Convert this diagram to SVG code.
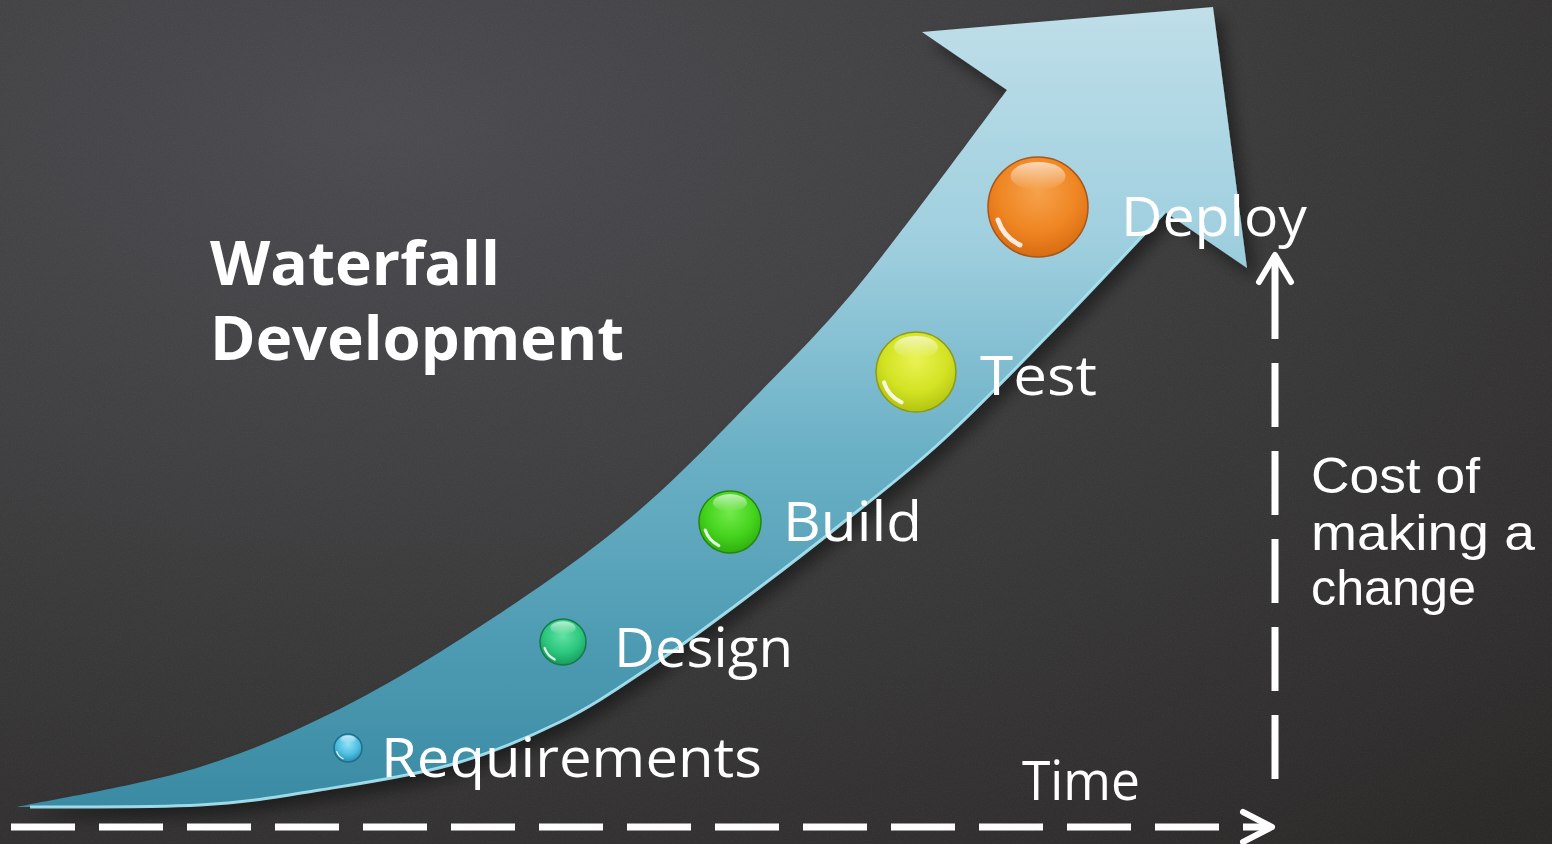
<svg xmlns="http://www.w3.org/2000/svg" width="1552" height="844" viewBox="0 0 1552 844">
<defs>
  <style>
    .lbl{font-family:"Open Sans","Liberation Sans",sans-serif;fill:#ffffff;font-size:54px;}
    .lbl2{font-family:"Liberation Sans","Open Sans",sans-serif;fill:#ffffff;font-size:50px;}
    .ttl{font-family:"Open Sans","Liberation Sans",sans-serif;fill:#ffffff;font-size:60px;font-weight:700;}
    .axis{stroke:#ffffff;stroke-width:7;fill:none;}
    .chev{stroke:#ffffff;stroke-width:6;fill:none;stroke-linecap:round;stroke-linejoin:round;}
    .rim{stroke-width:1.5;}
  </style>
  <radialGradient id="bg" cx="0.25" cy="0.15" r="1.1">
    <stop offset="0" stop-color="#4c4c51"/>
    <stop offset="0.5" stop-color="#3d3c3d"/>
    <stop offset="1" stop-color="#2c2a29"/>
  </radialGradient>
  <filter id="noise" x="0" y="0" width="100%" height="100%">
    <feTurbulence type="fractalNoise" baseFrequency="0.8" numOctaves="2" seed="3"/>
    <feColorMatrix type="matrix" values="0 0 0 0 1  0 0 0 0 1  0 0 0 0 1  0.6 0 0 0 -0.25"/>
  </filter>
  <linearGradient id="arrowFill" gradientUnits="userSpaceOnUse" x1="0" y1="0" x2="0" y2="810">
    <stop offset="0" stop-color="#c0dfe9"/>
    <stop offset="0.3" stop-color="#9fcfdf"/>
    <stop offset="0.55" stop-color="#6cb1c6"/>
    <stop offset="0.8" stop-color="#4d9bb3"/>
    <stop offset="1" stop-color="#3a8aa3"/>
  </linearGradient>
  <filter id="shadow" x="-10%" y="-10%" width="120%" height="120%">
    <feDropShadow dx="8" dy="10" stdDeviation="8" flood-color="#000000" flood-opacity="0.45"/>
  </filter>
  <radialGradient id="gOrange" cx="0.5" cy="0.35" r="0.65">
    <stop offset="0" stop-color="#f6a24c"/>
    <stop offset="0.6" stop-color="#ef8623"/>
    <stop offset="1" stop-color="#d86c12"/>
  </radialGradient>
  <radialGradient id="gYellow" cx="0.5" cy="0.35" r="0.65">
    <stop offset="0" stop-color="#e9f352"/>
    <stop offset="0.6" stop-color="#d3e324"/>
    <stop offset="1" stop-color="#b3c412"/>
  </radialGradient>
  <radialGradient id="gGreen" cx="0.5" cy="0.35" r="0.65">
    <stop offset="0" stop-color="#72ea4c"/>
    <stop offset="0.6" stop-color="#45d31d"/>
    <stop offset="1" stop-color="#2fae10"/>
  </radialGradient>
  <radialGradient id="gTeal" cx="0.5" cy="0.35" r="0.65">
    <stop offset="0" stop-color="#62e2a3"/>
    <stop offset="0.6" stop-color="#2cc77e"/>
    <stop offset="1" stop-color="#179c5c"/>
  </radialGradient>
  <radialGradient id="gBlue" cx="0.5" cy="0.35" r="0.65">
    <stop offset="0" stop-color="#93e2f6"/>
    <stop offset="0.6" stop-color="#4dbde0"/>
    <stop offset="1" stop-color="#2a8db0"/>
  </radialGradient>
  <linearGradient id="shine" x1="0" y1="0" x2="0" y2="1">
    <stop offset="0" stop-color="#ffffff" stop-opacity="0.65"/>
    <stop offset="1" stop-color="#ffffff" stop-opacity="0"/>
  </linearGradient>
  <g id="gloss">
    <ellipse cx="0" cy="-0.62" rx="0.55" ry="0.28" fill="url(#shine)"/>
    <path d="M -0.8 0.26 A 0.84 0.84 0 0 0 -0.36 0.76" fill="none" stroke="#ffffff" stroke-opacity="0.85" stroke-width="0.1" stroke-linecap="round"/>
  </g>
</defs>

<!-- chalkboard -->
<rect x="0" y="0" width="1552" height="844" fill="url(#bg)"/>
<rect x="0" y="0" width="1552" height="844" filter="url(#noise)" opacity="0.12"/>

<!-- big curved arrow -->
<g id="curve-arrow">
  <path filter="url(#shadow)" fill="url(#arrowFill)" d="M17,807 C47.5,800.3 143.3,784.8 200,767 C256.7,749.2 303.7,727.8 357,700 C410.3,672.2 472.3,632.2 520,600 C567.7,567.8 603,541.7 643,507 C683,472.3 723.3,429.8 760,392 C796.7,354.2 821.8,330.3 863,280 C904.2,229.7 983,121.7 1007,90 L922,32 L1213,7 L1247,268 L1165,212 C1148,230 1100,282 1063,320 C1026,358 980.2,405.8 943,440 C905.8,474.2 873.3,498.3 840,525 C806.7,551.7 774.7,576.3 743,600 C711.3,623.7 680.5,646.7 650,667 C619.5,687.3 593.3,705.7 560,722 C526.7,738.3 490,753.7 450,765 C410,776.3 361.7,783.3 320,790 C278.3,796.7 250.5,802.2 200,805 C149.5,807.8 47.5,806.7 17,807 Z"/>
  <path fill="none" stroke="#a8e7f5" stroke-width="3" stroke-opacity="0.9" d="M1165,212 C1148,230 1100,282 1063,320 C1026,358 980.2,405.8 943,440 C905.8,474.2 873.3,498.3 840,525 C806.7,551.7 774.7,576.3 743,600 C711.3,623.7 680.5,646.7 650,667 C619.5,687.3 593.3,705.7 560,722 C526.7,738.3 490,753.7 450,765 C410,776.3 361.7,783.3 320,790 C278.3,796.7 250.5,802.2 200,805 C149.5,807.8 60,806.7 30,807"/>
</g>

<!-- title -->
<g id="title">
  <text class="ttl" x="210" y="285" textLength="290" lengthAdjust="spacingAndGlyphs">Waterfall</text>
  <text class="ttl" x="210" y="360" textLength="414" lengthAdjust="spacingAndGlyphs">Development</text>
</g>

<!-- stages -->
<g id="stage-requirements">
  <circle cx="348" cy="748" r="14" fill="url(#gBlue)" class="rim" stroke="#1f6f8c"/>
  <use href="#gloss" transform="translate(348,748) scale(14)"/>
  <text class="lbl" x="381" y="777" textLength="381" lengthAdjust="spacingAndGlyphs">Requirements</text>
</g>
<g id="stage-design">
  <circle cx="563" cy="642" r="23" fill="url(#gTeal)" class="rim" stroke="#137a48"/>
  <use href="#gloss" transform="translate(563,642) scale(23)"/>
  <text class="lbl" x="614" y="667" textLength="179" lengthAdjust="spacingAndGlyphs">Design</text>
</g>
<g id="stage-build">
  <circle cx="730" cy="522" r="31" fill="url(#gGreen)" class="rim" stroke="#25850e"/>
  <use href="#gloss" transform="translate(730,522) scale(31)"/>
  <text class="lbl" x="783" y="541" textLength="139" lengthAdjust="spacingAndGlyphs">Build</text>
</g>
<g id="stage-test">
  <circle cx="916" cy="372" r="40" fill="url(#gYellow)" class="rim" stroke="#8d9a12"/>
  <use href="#gloss" transform="translate(916,372) scale(40)"/>
  <text class="lbl" x="980" y="395" textLength="117" lengthAdjust="spacingAndGlyphs">Test</text>
</g>
<g id="stage-deploy">
  <circle cx="1038" cy="207" r="50" fill="url(#gOrange)" class="rim" stroke="#a8561a"/>
  <use href="#gloss" transform="translate(1038,207) scale(50)"/>
  <text class="lbl" x="1121" y="236" textLength="186" lengthAdjust="spacingAndGlyphs">Deploy</text>
</g>

<!-- axis labels -->
<g id="label-time">
  <text class="lbl" x="1022" y="800" font-size="46" textLength="118" lengthAdjust="spacingAndGlyphs">Time</text>
</g>
<g id="label-cost">
  <text class="lbl2" x="1311" y="493" textLength="169" lengthAdjust="spacingAndGlyphs">Cost of</text>
  <text class="lbl2" x="1311" y="550" textLength="224" lengthAdjust="spacingAndGlyphs">making a</text>
  <text class="lbl2" x="1311" y="605" textLength="165" lengthAdjust="spacingAndGlyphs">change</text>
</g>

<!-- axes (connectors) -->
<g id="connectors">
  <path class="axis" stroke-dasharray="64 24" d="M11,827 H1237"/>
  <path class="axis" d="M1243,827 H1268"/>
  <path class="chev" d="M1243,812 L1272,827 L1243,842"/>
  <path class="axis" d="M1275,779 V363" stroke-dasharray="64 24"/>
  <path class="axis" d="M1275,339 V258"/>
  <path class="chev" d="M1259,282 L1275,255 L1291,282"/>
</g>
</svg>
